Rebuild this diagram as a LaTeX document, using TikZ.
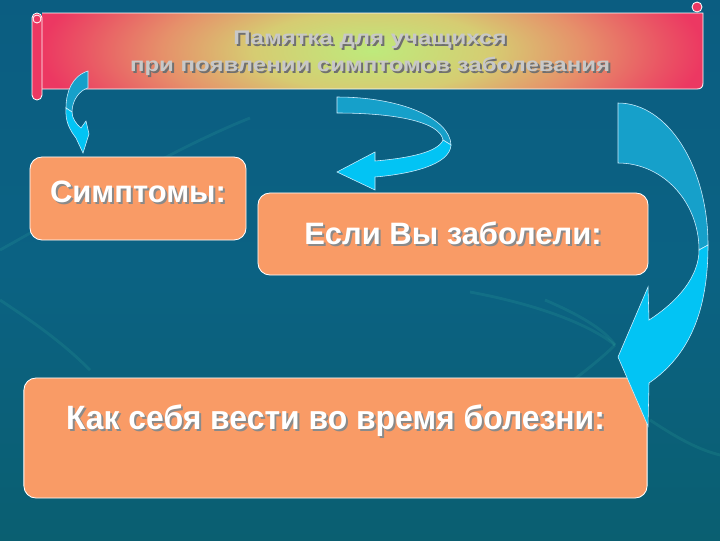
\documentclass[tikz,border=0pt]{standalone}
\usepackage{fontspec}
\setmainfont{Liberation Sans}
\newfontfamily\widefont[FakeStretch=1.22]{Liberation Sans}
\newfontfamily\narrowfont[FakeStretch=0.945]{Liberation Sans}

\definecolor{bgtop}{HTML}{093A57}
\definecolor{bgup}{HTML}{0B5A80}
\definecolor{bgmid}{HTML}{0B6283}
\definecolor{bglow}{HTML}{0A5E6C}
\definecolor{bgbot}{HTML}{023737}
\definecolor{scrollred}{HTML}{EC3862}
\definecolor{glowin}{HTML}{BEEA7C}
\definecolor{glowmid}{HTML}{D6CC72}
\definecolor{glowor}{HTML}{E6906A}
\definecolor{glowpink}{HTML}{EA5464}
\definecolor{boxfill}{HTML}{F99B66}
\definecolor{arrowback}{HTML}{16A0CA}
\definecolor{arrowfront}{HTML}{02C4F4}
\definecolor{arrowline}{HTML}{CFEFFF}
\definecolor{txtshadow}{HTML}{8A8A8A}
\definecolor{titletext}{HTML}{C8C8C8}
\definecolor{titleshadow}{HTML}{707070}
\definecolor{faintline}{HTML}{3FC0A8}

\pgfdeclareverticalshading{slidebg}{100bp}{color(0bp)=(bgbot); color(18bp)=(bglow);
  color(50bp)=(bgmid); color(92bp)=(bgup); color(100bp)=(bgtop)}
\pgfdeclareradialshading{bannerglow}{\pgfpoint{0bp}{0bp}}{color(0bp)=(glowin);
  color(9bp)=(glowmid); color(16bp)=(glowor); color(22bp)=(glowpink);
  color(25bp)=(scrollred); color(50bp)=(scrollred)}

\newcommand\embossed[2][txtshadow]{\makebox[0pt][l]{\hspace{1.4pt}\raisebox{-1.4pt}{\color{#1}#2}}#2}

\begin{document}
\begin{tikzpicture}[x=0.025cm,y=-0.025cm,
  infobox/.style={draw=white,line width=0.6pt,fill=boxfill,rounded corners=0.3cm,
    text=white,font=\fontsize{22}{26}\selectfont\bfseries},
  backpart/.style={fill=arrowback,draw=arrowline,line width=0.4pt},
  frontpart/.style={fill=arrowfront,draw=arrowline,line width=0.4pt},
  scrollline/.style={draw=white,line width=0.6pt}]
  \useasboundingbox (0,0) rectangle (720,540);
  \shade[shading=slidebg] (0,0) rectangle (720,540);

  % faint strokes of the background
  \begin{scope}[faintline,opacity=0.14,line width=2pt]
    \draw (0,250) .. controls (90,200) and (170,150) .. (250,118);
    \draw (470,292) .. controls (540,305) and (590,325) .. (615,345);
    \draw (545,300) .. controls (580,315) and (605,330) .. (615,345);
    \draw (520,420) .. controls (560,390) and (595,365) .. (615,345);
    \draw (0,300) .. controls (30,320) and (60,340) .. (90,370);
    \draw (650,420) .. controls (680,440) and (700,450) .. (720,455);
  \end{scope}

  % scroll banner
  \coordinate (curlL) at (37,19);
  \coordinate (curlR) at (697,7);
  \begin{scope}
    \clip (42,13) -- (703,13) -- (703,83) .. controls (703,87) and (701,89) .. (697,89)
      -- (42,89) -- cycle;
    \shade[shading=bannerglow] (42,-60) rectangle (703,162);
  \end{scope}
  \draw[scrollline] (42,13) -- (703,13) -- (703,83) .. controls (703,87) and (701,89) .. (697,89)
    -- (42,89);
  \draw[scrollline,fill=scrollred] (curlR) circle [radius=5];
  \draw[scrollline,fill=scrollred,rounded corners=3.5pt] (32,13) rectangle (42,100);
  \draw[scrollline] (curlL) circle [radius=4];
  \node[align=center,text=titletext,font=\widefont\fontsize{14}{19.5}\selectfont\bfseries]
    (title) at (370,54)
    {\embossed[titleshadow]{Памятка для учащихся}\\
     \embossed[titleshadow]{при появлении симптомов заболевания}};

  % small arrow down to the first box
  \draw[backpart] (88,71) -- (88,88) .. controls (80,90) and (72,100) .. (72,112)
    -- (66,108) .. controls (66,92) and (72,76) .. (88,71) -- cycle;
  \draw[frontpart] (66,108) .. controls (65,122) and (70,130) .. (76,138) -- (83,153)
    -- (89,134) -- (86,121) -- (81,128) .. controls (76,124) and (72,118) .. (72,112) -- cycle;

  % arrow turning back to the left
  \draw[backpart] (337,97) .. controls (400,97) and (450,118) .. (451,145) -- (443,140)
    .. controls (440,122) and (396,113) .. (337,113) -- cycle;
  \draw[frontpart] (451,145) .. controls (450,165) and (410,174) .. (375,177) -- (375,190)
    -- (337,172) -- (375,152) -- (375,161) .. controls (410,158) and (438,152) .. (443,140) -- cycle;

  % boxes
  \node[infobox,minimum width=5.4cm,minimum height=2.075cm,text depth=9pt]
    (symptoms) at (138,198.5) {\embossed{Симптомы:}};
  \node[infobox,minimum width=9.75cm,minimum height=2.05cm]
    (ifill) at (453,234) {\embossed{Если Вы заболели:}};
  \node[infobox,minimum width=15.575cm,minimum height=3cm,text depth=30pt,
    font=\narrowfont\fontsize{24}{28}\selectfont\bfseries]
    (behave) at (335.5,438) {\embossed{Как себя вести во время болезни:}};

  % big arrow down to the last box
  \draw[backpart] (618,103) .. controls (668,103) and (708,167) .. (708,245) -- (699,250)
    .. controls (699,202) and (663,163) .. (618,163) -- cycle;
  \draw[frontpart] (708,245) .. controls (708,310) and (690,355) .. (649,383) -- (648,426)
    -- (618,357) -- (648,287) -- (649,320) .. controls (680,300) and (699,275) .. (699,250) -- cycle;
\end{tikzpicture}
\end{document}
